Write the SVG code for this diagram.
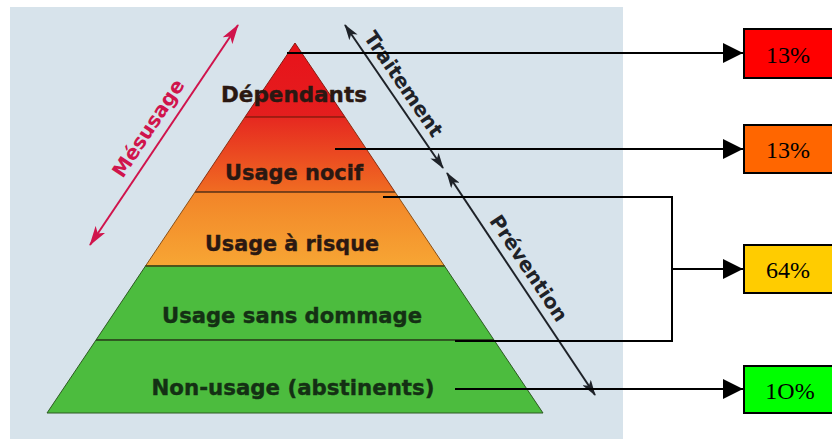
<svg xmlns="http://www.w3.org/2000/svg" width="832" height="439" viewBox="0 0 832 439">
<style>
.lbl{font-family:"DejaVu Sans","Liberation Sans",sans-serif;font-weight:bold;font-size:22px;text-anchor:middle;stroke-width:0.4;}
.warm{fill:#2a1812;stroke:#2a1812;}
.cool{fill:#143014;stroke:#143014;}
.axis{font-family:"DejaVu Sans","Liberation Sans",sans-serif;font-weight:bold;font-size:20px;text-anchor:middle;}
.conn{fill:none;stroke:#000;stroke-width:2;}
.box{stroke:#000;stroke-width:2;}
.pct{font-family:"Liberation Serif","Times New Roman",serif;font-size:24px;text-anchor:middle;fill:#000;}
.sep{stroke-width:1.5;}
</style>
<defs>
<linearGradient id="g1" gradientUnits="userSpaceOnUse" x1="0" y1="43" x2="0" y2="117"><stop offset="0" stop-color="#e8121a"/><stop offset="1" stop-color="#e41e1e"/></linearGradient>
<linearGradient id="g2" gradientUnits="userSpaceOnUse" x1="0" y1="117" x2="0" y2="192"><stop offset="0" stop-color="#e62820"/><stop offset="1" stop-color="#f06c22"/></linearGradient>
<linearGradient id="g3" gradientUnits="userSpaceOnUse" x1="0" y1="192" x2="0" y2="266"><stop offset="0" stop-color="#f28428"/><stop offset="1" stop-color="#f7a634"/></linearGradient>
<marker id="mred" viewBox="0 0 20 12" refX="19" refY="6" markerWidth="20" markerHeight="12" markerUnits="userSpaceOnUse" orient="auto-start-reverse"><path d="M0,0 L20,6 L0,12 L5,6 z" fill="#d0144c"/></marker>
<marker id="mdark" viewBox="0 0 16 10" refX="15" refY="5" markerWidth="16" markerHeight="10" markerUnits="userSpaceOnUse" orient="auto-start-reverse"><path d="M0,0 L16,5 L0,10 L4,5 z" fill="#1e2228"/></marker>
<marker id="mblk" viewBox="0 0 20 20" refX="20" refY="10" markerWidth="20" markerHeight="20" markerUnits="userSpaceOnUse" orient="auto"><path d="M0,0 L20,10 L0,20 z" fill="#000"/></marker>
</defs>
<rect x="0" y="0" width="832" height="439" fill="#ffffff"/>
<rect id="panel" x="10" y="7" width="613" height="432" fill="#d7e3eb"/>
<g id="pyramid">
<g id="layer-dependants"><polygon points="295,43 345,117 245,117" fill="url(#g1)" stroke="#8a1a10" stroke-width="1"/><text class="lbl warm" x="294" y="102" textLength="146" lengthAdjust="spacingAndGlyphs">Dépendants</text></g>
<g id="layer-nocif"><polygon points="245,117 345,117 395,192 195,192" fill="url(#g2)" stroke="#8a3010" stroke-width="1"/><text class="lbl warm" x="294" y="180" textLength="138" lengthAdjust="spacingAndGlyphs">Usage nocif</text></g>
<g id="layer-risque"><polygon points="195,192 395,192 444.5,266 145.5,266" fill="url(#g3)" stroke="#8a5018" stroke-width="1"/><text class="lbl warm" x="292" y="251" textLength="174" lengthAdjust="spacingAndGlyphs">Usage à risque</text></g>
<g id="layer-sans-dommage"><polygon points="145.5,266 444.5,266 494,340 96,340" fill="#4cbc3e" stroke="#2d5a22" stroke-width="1"/><text class="lbl cool" x="292" y="323" textLength="260" lengthAdjust="spacingAndGlyphs">Usage sans dommage</text></g>
<g id="layer-non-usage"><polygon points="96,340 494,340 543,413 47,413" fill="#4cbc3e" stroke="#2d5a22" stroke-width="1"/><text class="lbl cool" x="293" y="395" textLength="283" lengthAdjust="spacingAndGlyphs">Non-usage (abstinents)</text></g>
<line class="sep" x1="245" y1="117" x2="345" y2="117" stroke="#a01812"/>
<line class="sep" x1="195" y1="192" x2="395" y2="192" stroke="#6a3a18"/>
<line class="sep" x1="145.5" y1="266" x2="444.5" y2="266" stroke="#4a4a18"/>
<line class="sep" x1="96" y1="340" x2="494" y2="340" stroke="#2d4a1e"/>
</g>
<g id="axis-mesusage">
<line x1="90" y1="245" x2="238" y2="25" stroke="#d0144c" stroke-width="2" marker-start="url(#mred)" marker-end="url(#mred)"/>
<text class="axis" x="154" y="132" fill="#d0144c" transform="rotate(-56.25 154 132)">Mésusage</text>
</g>
<g id="axis-traitement">
<line x1="345" y1="25" x2="443" y2="168" stroke="#1e2228" stroke-width="2" marker-start="url(#mdark)" marker-end="url(#mdark)"/>
<text class="axis" x="398" y="88" fill="#1e2228" transform="rotate(55.6 398 88)">Traitement</text>
</g>
<g id="axis-prevention">
<line x1="447" y1="173" x2="595" y2="395" stroke="#1e2228" stroke-width="2" marker-start="url(#mdark)" marker-end="url(#mdark)"/>
<text class="axis" x="523" y="272" fill="#1e2228" transform="rotate(56.3 523 272)">Prévention</text>
</g>
<g id="connectors">
<line class="conn" x1="287" y1="53" x2="743" y2="53" marker-end="url(#mblk)"/>
<line class="conn" x1="335" y1="149" x2="743" y2="149" marker-end="url(#mblk)"/>
<polyline class="conn" points="383,197 672,197 672,341 455,341"/>
<line class="conn" x1="672" y1="269" x2="743" y2="269" marker-end="url(#mblk)"/>
<line class="conn" x1="455" y1="389" x2="743" y2="389" marker-end="url(#mblk)"/>
</g>
<g id="box-dependants"><rect class="box" x="744" y="29" width="100" height="49" fill="#ff0000"/><text class="pct" x="788" y="63">13%</text></g>
<g id="box-nocif"><rect class="box" x="744" y="125" width="100" height="48" fill="#ff6600"/><text class="pct" x="788" y="158">13%</text></g>
<g id="box-risque"><rect class="box" x="744" y="245" width="100" height="48" fill="#ffcc00"/><text class="pct" x="788" y="278">64%</text></g>
<g id="box-non-usage"><rect class="box" x="744" y="366" width="100" height="47" fill="#00ff00"/><text class="pct" x="790" y="399">1O%</text></g>
</svg>
